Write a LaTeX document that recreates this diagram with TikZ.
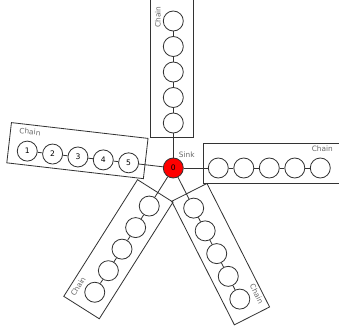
\documentclass[tikz,border=0pt]{standalone}
\usepackage{fontspec}
\setmainfont{DejaVu Sans}
\usetikzlibrary{positioning}
\tikzset{
  chain node/.style={circle,draw=black!80,fill=white,line width=0.7pt,minimum size=0.6cm,inner sep=0pt,font=\fontsize{6.5}{7}\selectfont},
  sink node/.style={chain node,fill=red},
  chain box/.style={draw=black!80,line width=0.7pt},
  chain link/.style={draw=black!80,line width=0.7pt},
  chain label/.style={text=black!60,inner sep=0pt,font=\fontsize{6.3}{7}\selectfont},
}

\begin{document}
\begin{tikzpicture}[x=0.03cm,y=0.03cm]
  \useasboundingbox (-173.3,-163) rectangle (165.7,168);
  \node[sink node] (sink) at (0,0) {0};
  \node[chain label] (sinklabel) at (13.4,13.3) {Sink};
  % upper chain
  \begin{scope}[rotate=90]
    \draw[chain box] (31,-19.7) -- (172,-19.7) -- (172,23.3) -- (31,23.3) -- cycle;
    \foreach \i in {1,...,5}
      \node[chain node] (u\i) at ({45+25.5*(\i-1)},0) {};
    \node[chain label,rotate=90] (ulabel) at (151,15.5) {Chain};
  \end{scope}
  % right chain
  \begin{scope}
    \draw[chain box] (30,-15) -- (172,-15) -- (172,25) -- (30,25) -- cycle;
    \foreach \i in {1,...,5}
      \node[chain node] (r\i) at ({45+25.5*(\i-1)},0) {};
    \node[chain label] (rlabel) at (149,19) {Chain};
  \end{scope}
  % left chain, numbered
  \begin{scope}[rotate=173.4]
    \draw[chain box] (28.5,-26.5) -- (166,-26.5) -- (166,14) -- (28.5,14) -- cycle;
    \foreach \i [evaluate=\i as \n using int(6-\i)] in {1,...,5}
      \node[chain node] (l\i) at ({45+25.5*(\i-1)},0) {\n};
    \node[chain label,rotate=-6.6] (llabel) at (146.5,-19.5) {Chain};
  \end{scope}
  % lower left chain
  \begin{scope}[rotate=237.7]
    \draw[chain box] (29,-24) -- (167,-24) -- (167,18) -- (29,18) -- cycle;
    \foreach \i in {1,...,5}
      \node[chain node] (a\i) at ({45+25.5*(\i-1)},0) {};
    \node[chain label,rotate=57.7] (alabel) at (151,-17) {Chain};
  \end{scope}
  % lower right chain
  \begin{scope}[rotate=296.9]
    \draw[chain box] (29,-16.5) -- (167.5,-16.5) -- (167.5,23) -- (29,23) -- cycle;
    \foreach \i in {1,...,5}
      \node[chain node] (b\i) at ({45+25.5*(\i-1)},0) {};
    \node[chain label,rotate=-63.1] (blabel) at (150,17.5) {Chain};
  \end{scope}
  % links
  \foreach \c in {u,r,l,a,b} {
    \draw[chain link] (sink) -- (\c1);
    \foreach \i [count=\j from 2] in {1,...,4}
      \draw[chain link] (\c\i) -- (\c\j);
  }
\end{tikzpicture}
\end{document}
